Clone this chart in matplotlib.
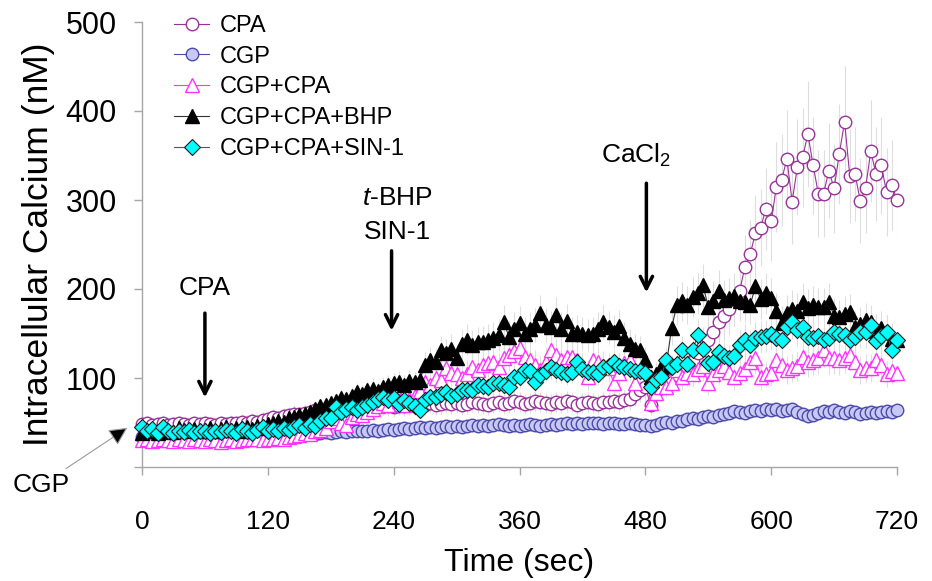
import numpy as np
import matplotlib
matplotlib.use('Agg')
import matplotlib.pyplot as plt

plt.rcParams['font.family'] = ['Liberation Sans', 'DejaVu Sans']
plt.rcParams['mathtext.fontset'] = 'custom'
plt.rcParams['mathtext.rm'] = 'Liberation Sans'
plt.rcParams['mathtext.it'] = 'Liberation Sans:italic'

# ---------------- data (nM), one value every 5 s from 0 to 720 s ----------------
time_sec = np.arange(0, 721, 5)

cpa = [
    48, 49, 47, 48, 50, 47, 48, 49, 48, 47, 49, 48,
    50, 48, 47, 49, 48, 50, 49, 51, 50, 52, 51, 53,
    54, 56, 55, 57, 58, 60, 59, 61, 62, 64, 63, 65,
    66, 64, 67, 65, 66, 68, 67, 66, 68, 67, 69, 68,
    67, 69, 68, 70, 69, 71, 70, 72, 70, 71, 72, 71,
    72, 70, 71, 73, 72, 71, 70, 72, 73, 71, 72, 74,
    73, 71, 72, 74, 73, 72, 71, 73, 72, 74, 73, 70,
    72, 73, 72, 71, 73, 73, 74, 73, 75, 76, 82, 87,
    90, 70, 85, 89, 94, 98, 103, 107, 112, 120, 128, 136,
    143, 152, 163, 170, 177, 188, 198, 225, 239, 263, 269, 290,
    276, 315, 323, 346, 298, 337, 348, 374, 339, 307, 307, 333,
    313, 352, 388, 327, 329, 299, 313, 355, 329, 339, 309, 317,
    300,
]

cgp = [
    34, 35, 34, 35, 34, 35, 34, 35, 35, 34, 35, 35,
    35, 34, 35, 35, 36, 35, 35, 36, 35, 36, 36, 35,
    36, 37, 36, 37, 37, 38, 37, 38, 38, 37, 38, 39,
    38, 39, 40, 39, 40, 41, 40, 41, 42, 41, 42, 43,
    42, 43, 44, 43, 44, 45, 44, 45, 44, 45, 46, 45,
    46, 45, 46, 47, 46, 47, 46, 47, 48, 47, 46, 47,
    46, 47, 48, 47, 46, 47, 48, 47, 48, 49, 48, 49,
    48, 49, 50, 49, 48, 49, 49, 48, 48, 49, 48, 47,
    47, 46, 47, 49, 51, 50, 52, 52, 54, 55, 54, 56,
    57, 56, 58, 60, 61, 63, 62, 61, 63, 64, 63, 65,
    64, 65, 63, 64, 65, 62, 60, 57, 58, 61, 63, 62,
    64, 62, 61, 63, 62, 60, 61, 62, 61, 62, 63, 62,
    64,
]

cgp_cpa = [
    30, 31, 29, 30, 32, 30, 29, 31, 30, 29, 31, 30,
    29, 31, 30, 28, 30, 31, 29, 30, 31, 32, 31, 30,
    31, 32, 33, 32, 34, 35, 36, 38, 37, 40, 42, 44,
    52, 55, 50, 47, 56, 60, 58, 62, 65, 68, 72, 70,
    90, 74, 70, 76, 80, 85, 95, 92, 100, 98, 111, 106,
    104, 100, 105, 112, 109, 115, 117, 118, 112, 122, 126, 130,
    134, 124, 120, 115, 109, 118, 131, 126, 120, 124, 124, 120,
    112, 101, 120, 118, 114, 111, 94, 106, 117, 120, 94, 109,
    109, 72, 83, 90, 90, 94, 109, 101, 106, 104, 110, 113,
    94, 104, 109, 113, 107, 101, 106, 110, 118, 122, 101, 104,
    106, 120, 115, 109, 111, 113, 124, 118, 120, 122, 131, 122,
    122, 120, 123, 126, 118, 109, 111, 111, 120, 115, 104, 108,
    106,
]

cgp_cpa_bhp = [
    38, 40, 42, 38, 43, 41, 39, 44, 42, 40, 43, 41,
    42, 44, 40, 43, 45, 42, 44, 41, 45, 43, 46, 44,
    48, 50, 52, 51, 55, 56, 58, 60, 62, 65, 68, 70,
    72, 74, 78, 76, 80, 84, 82, 86, 88, 85, 90, 92,
    94, 96, 92, 97, 95, 98, 115, 120, 118, 131, 128, 133,
    122, 138, 143, 137, 140, 141, 143, 145, 148, 163, 146, 155,
    162, 150, 155, 160, 173, 160, 157, 171, 155, 164, 150, 152,
    150, 148, 150, 155, 163, 157, 152, 158, 145, 138, 133, 131,
    120, 101, 105, 112, 114, 156, 182, 186, 182, 191, 195, 204,
    180, 187, 198, 188, 190, 192, 187, 185, 182, 203, 189, 195,
    190, 175, 162, 173, 178, 175, 185, 179, 182, 180, 180, 185,
    170, 168, 172, 174, 157, 161, 165, 163, 153, 156, 152, 144,
    143,
]

cgp_cpa_sin1 = [
    45, 40, 43, 38, 45, 40, 38, 41, 39, 42, 38, 41,
    40, 38, 41, 39, 42, 40, 38, 43, 40, 38, 42, 45,
    41, 43, 40, 44, 42, 45, 47, 44, 48, 46, 52, 55,
    55, 67, 62, 65, 67, 64, 67, 70, 73, 76, 79, 75,
    77, 71, 75, 72, 69, 64, 75, 79, 79, 82, 84, 80,
    82, 87, 86, 87, 92, 91, 90, 94, 94, 92, 90, 101,
    101, 109, 108, 96, 103, 108, 112, 109, 107, 105, 107, 118,
    110, 107, 107, 105, 112, 114, 118, 114, 112, 110, 108, 108,
    106, 90, 98, 101, 120, 112, 116, 131, 116, 131, 148, 133,
    117, 118, 129, 125, 122, 125, 137, 143, 137, 145, 146, 147,
    149, 145, 143, 157, 163, 154, 157, 146, 145, 147, 143, 145,
    152, 150, 148, 143, 146, 152, 152, 160, 142, 147, 152, 131,
    143,
]

series_labels = ['CPA', 'CGP', 'CGP+CPA', 'CGP+CPA+BHP', 'CGP+CPA+SIN-1']
series_values = [cpa, cgp, cgp_cpa, cgp_cpa_bhp, cgp_cpa_sin1]
# relative size of the (light grey) error bars for each series
error_fraction = [0.16, 0.10, 0.14, 0.12, 0.12]

x_ticks = [0, 120, 240, 360, 480, 600, 720]
y_ticks = [0, 100, 200, 300, 400, 500]
y_tick_labels = ['', '100', '200', '300', '400', '500']

# ---------------- styles ----------------
styles = [
    dict(marker='o', ms=9, mfc='white', mec='#993399', color='#993399', mew=1.0),
    dict(marker='o', ms=9, mfc='#c8c8f5', mec='#4b4ba8', color='#4b4ba8', mew=1.0),
    dict(marker='^', ms=10.5, mfc='white', mec='#ff33ff', color='#ff33ff', mew=1.0),
    dict(marker='^', ms=10.5, mfc='black', mec='black', color='#333333', mew=1.0),
    dict(marker='D', ms=8, mfc='#00ffff', mec='#1a1a1a', color='#555555', mew=0.8),
]

fig = plt.figure(figsize=(9.32, 5.81), dpi=100)
ax = fig.add_axes([142 / 932, (581 - 467) / 581, 755 / 932, 445 / 581])

for vals, frac in zip(series_values, error_fraction):
    v = np.asarray(vals, dtype=float)
    ax.errorbar(time_sec, v, yerr=v * frac, fmt='none', ecolor='#dedede',
                elinewidth=0.8, capsize=0, zorder=1)

handles = []
for lab, vals, st in zip(series_labels, series_values, styles):
    h, = ax.plot(time_sec, vals, lw=0.8, label=lab, clip_on=False, zorder=3, **st)
    handles.append(h)

ax.set_xlim(0, 720)
ax.set_ylim(0, 500)
ax.set_xticks(x_ticks)
ax.set_yticks(y_ticks)
ax.set_yticklabels(y_tick_labels)
ax.tick_params(axis='both', direction='out', length=6, width=1, color='#a6a6a6')
ax.tick_params(axis='x', pad=25, labelsize=19)
ax.tick_params(axis='y', pad=12, labelsize=22)
for s in ['top', 'right']:
    ax.spines[s].set_visible(False)
for s in ['left', 'bottom']:
    ax.spines[s].set_color('#a6a6a6')
    ax.spines[s].set_linewidth(1)

ax.set_xlabel('Time (sec)', fontsize=23, labelpad=10)
ax.set_ylabel('Intracellular Calcium (nM)', fontsize=25.5, labelpad=8)

leg = ax.legend(handles=handles, loc='upper left', bbox_to_anchor=(174 / 932, 1 - 15 / 581),
                bbox_transform=fig.transFigure, frameon=False, fontsize=17,
                handlelength=1.5, handletextpad=0.45, labelspacing=0.37, borderpad=0,
                borderaxespad=0)

arrow_kw = dict(arrowstyle='->', lw=2.5, color='black', mutation_scale=22)
ax.annotate('', xy=(60, 75), xytext=(60, 176), arrowprops=arrow_kw)
ax.text(60, 201, 'CPA', fontsize=19, ha='center', va='center')

ax.annotate('', xy=(238, 150), xytext=(238, 246), arrowprops=arrow_kw)
ax.text(210, 302, '$t$-BHP', fontsize=19, ha='left', va='center')
ax.text(212, 264, 'SIN-1', fontsize=19, ha='left', va='center')

ax.annotate('', xy=(481, 193), xytext=(481, 322), arrowprops=arrow_kw)
ax.text(438, 350, 'CaCl$_2$', fontsize=19, ha='left', va='center')

ax.annotate('CGP', xy=(-14, 44), xytext=(-123, -20), fontsize=19, ha='left', va='center',
            annotation_clip=False,
            arrowprops=dict(arrowstyle='-|>', fc='black', ec='#9a9a9a', lw=0.8,
                            mutation_scale=28, shrinkA=2, shrinkB=0))

fig.savefig('out.png', dpi=100)
